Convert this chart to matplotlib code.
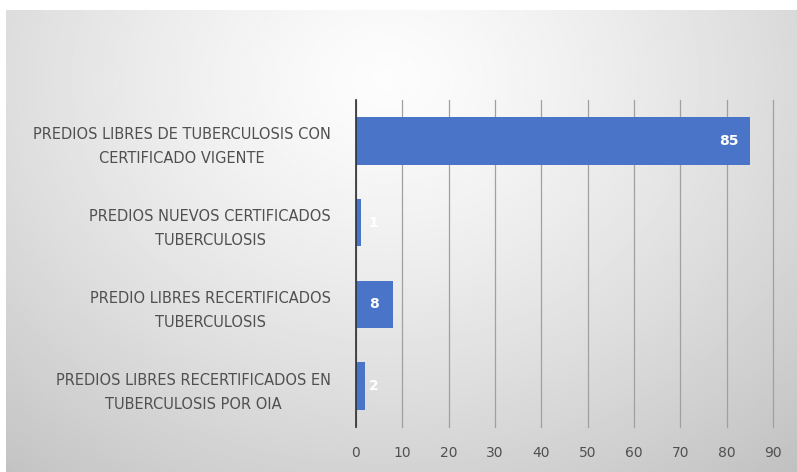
import numpy as np
import matplotlib.pyplot as plt

categories = [
    "PREDIOS LIBRES DE TUBERCULOSIS CON\nCERTIFICADO VIGENTE",
    "PREDIOS NUEVOS CERTIFICADOS\nTUBERCULOSIS",
    "PREDIO LIBRES RECERTIFICADOS\nTUBERCULOSIS",
    "PREDIOS LIBRES RECERTIFICADOS EN\nTUBERCULOSIS POR OIA",
]
values = [85, 1, 8, 2]
xticks = list(range(0, 100, 10))

bar_color = "#4a74c8"
text_color = "#505050"

fig = plt.figure(figsize=(7.97, 4.72), dpi=100)

# gradient panel behind the chart
bg = fig.add_axes([6 / 797, 0, 791 / 797, 462 / 472], zorder=-1)
gx, gy = np.meshgrid(np.linspace(0, 1, 400), np.linspace(0, 1, 240))
r = np.sqrt(((gx - 0.48) / 0.7) ** 2 + ((gy - 0.15) / 1.0) ** 2)
shade = 0.99 - 0.2 * np.clip(r, 0, 1.2) ** 1.3
bg.imshow(shade, cmap="gray", vmin=0, vmax=1, aspect="auto",
          extent=[0, 1, 1, 0], interpolation="bilinear")
bg.axis("off")

ax = fig.add_axes([356 / 797, 1 - 427 / 472, (773 - 356) / 797, (427 - 100) / 472])
ax.set_facecolor("none")

ypos = np.arange(len(categories))
ax.barh(ypos, values, height=0.58, color=bar_color, zorder=3)
ax.set_ylim(len(categories) - 0.5, -0.5)
ax.set_xlim(0, 90)

for y, v in zip(ypos, values):
    ax.text(max(v - 4.6, 3.8), y, str(v), color="white", fontsize=10,
            fontweight="bold", ha="center", va="center", zorder=4)

ax.set_yticks(ypos)
ax.set_yticklabels(categories, fontsize=10.5, color=text_color,
                   multialignment="center", linespacing=1.75)
ax.set_xticks(xticks)
ax.set_xticklabels([str(t) for t in xticks], fontsize=10, color=text_color)
ax.tick_params(axis="both", length=0)
ax.tick_params(axis="y", pad=18)
ax.tick_params(axis="x", pad=14)

ax.grid(axis="x", color="#a0a0a0", linewidth=0.9, zorder=1)
for gl in ax.get_xgridlines():
    gl.set_clip_on(False)
for side in ["top", "right", "bottom"]:
    ax.spines[side].set_visible(False)
ax.spines["left"].set_color("#303030")
ax.spines["left"].set_linewidth(1.2)
ax.spines["left"].set_zorder(5)

plt.savefig("out.png", dpi=100)
